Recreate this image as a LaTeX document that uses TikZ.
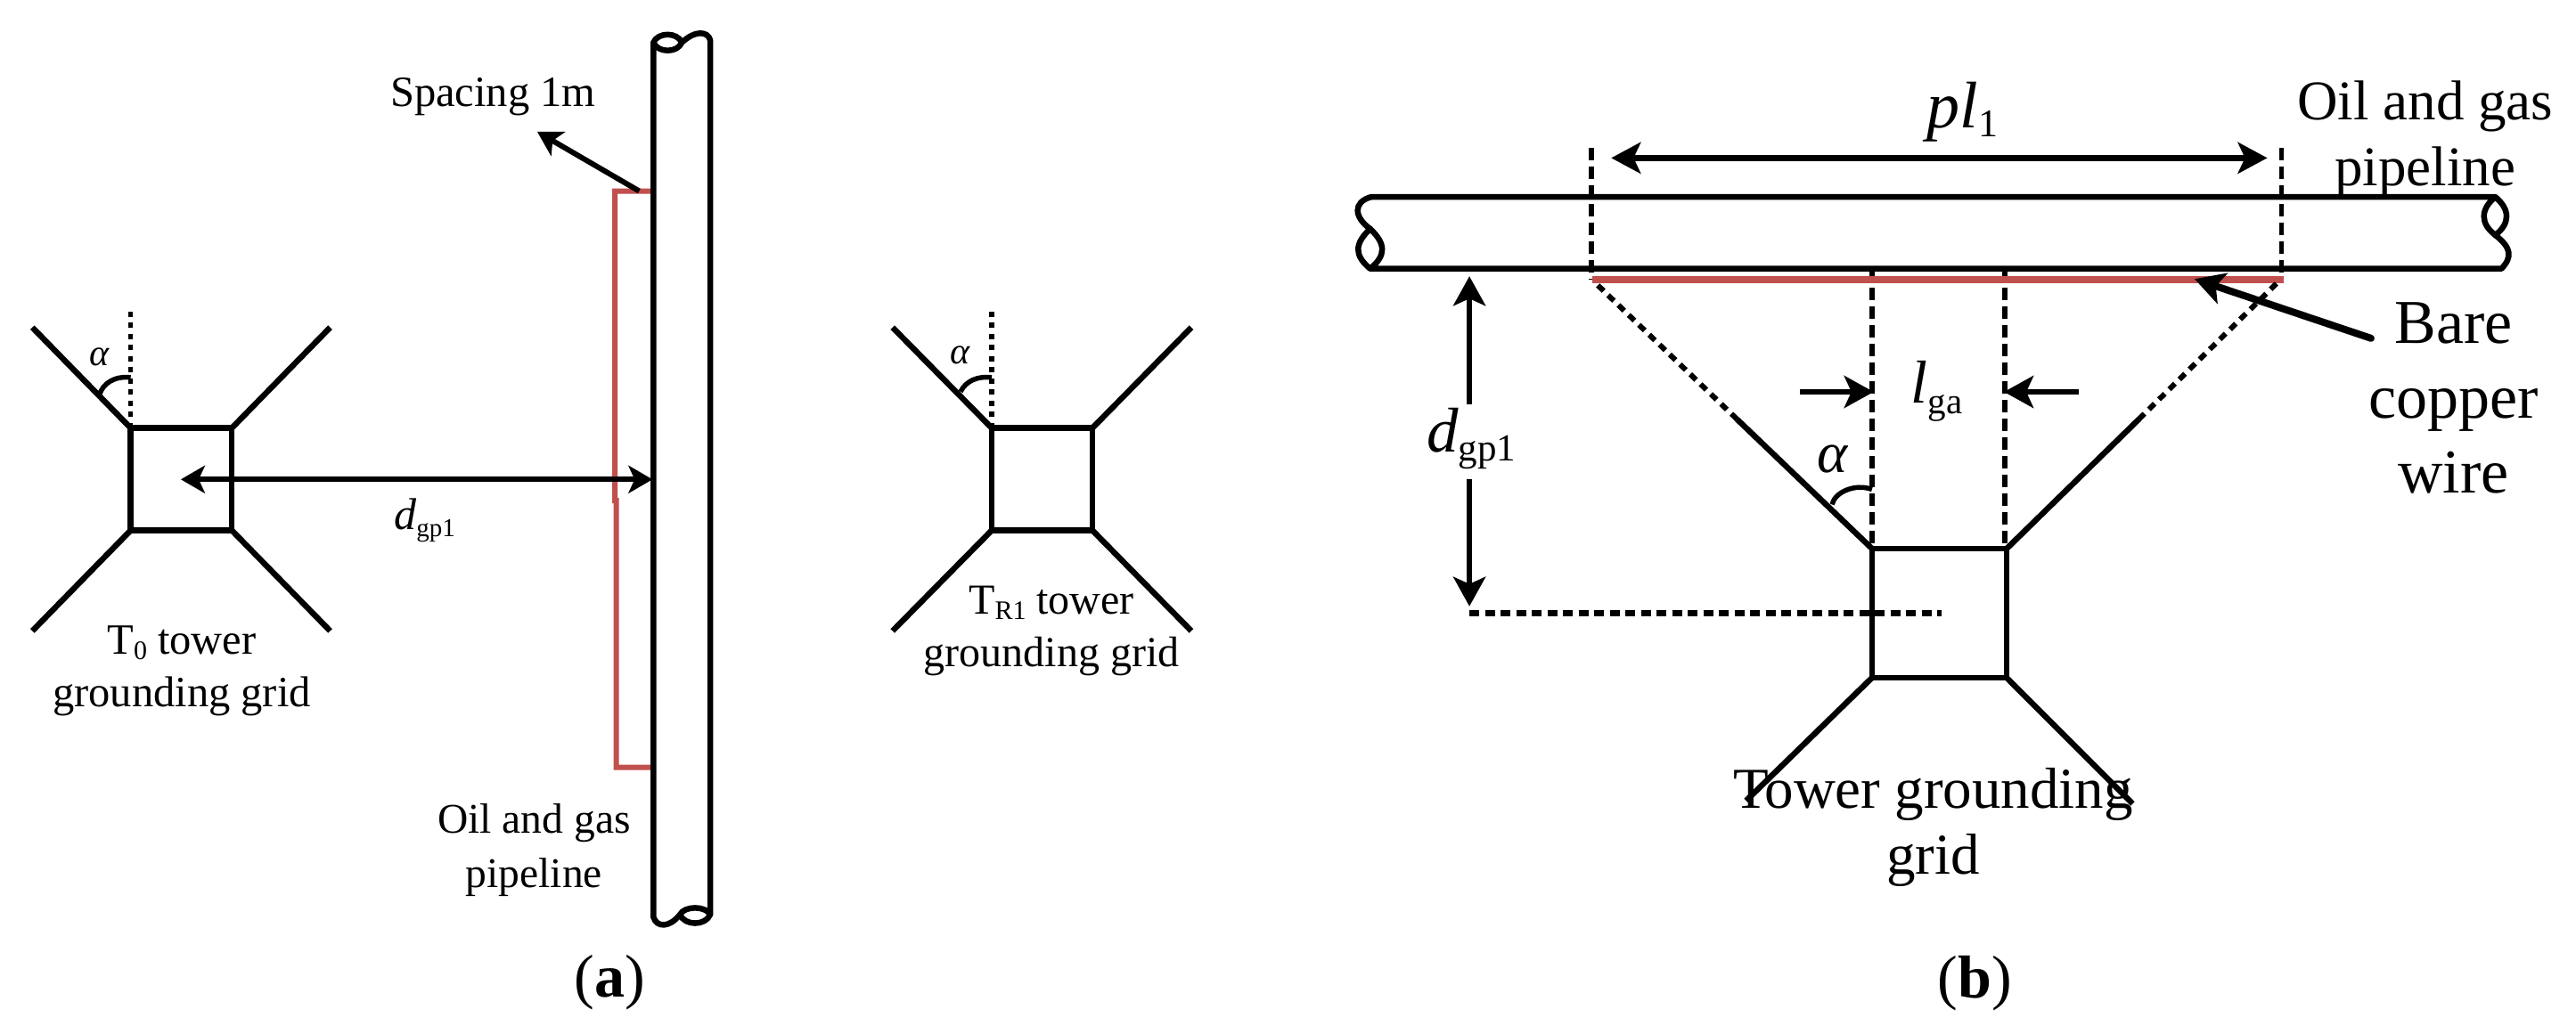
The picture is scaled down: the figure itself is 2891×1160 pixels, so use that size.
\documentclass[tikz,border=0pt]{standalone}
\usepackage{fontspec}
\setmainfont{Liberation Serif}
\usetikzlibrary{arrows.meta}
\definecolor{copperred}{HTML}{C0504D}
\newcommand{\fs}[1]{\fontsize{#1}{#1}\selectfont}
\newcommand{\subt}[3]{\raisebox{-#1pt}{\fontsize{#2}{#2}\selectfont #3}}
\tikzset{
  x=1pt,y=-1pt,
  wire/.style={line width=6.5pt,draw=black,line join=round},
  pipeline/.style={line width=6.5pt,draw=black,line join=round,line cap=round},
  copper/.style={line width=6pt,draw=copperred},
  angarc/.style={line width=5.5pt,draw=black},
  shortdash/.style={line width=5.5pt,draw=black,dash pattern=on 6pt off 6.5pt},
  longdash/.style={line width=5.5pt,draw=black,dash pattern=on 14pt off 7pt},
  slantdot/.style={line width=6pt,draw=black,dash pattern=on 9pt off 7pt},
  levdot/.style={line width=7pt,draw=black,dash pattern=on 11pt off 6.5pt},
  arrA/.style={line width=6pt,draw=black,{Stealth[length=27pt,width=31pt,inset=7pt]}-{Stealth[length=27pt,width=31pt,inset=7pt]}},
  arrA1/.style={line width=6pt,draw=black,-{Stealth[length=27pt,width=31pt,inset=7pt]}},
  arrB/.style={line width=7pt,draw=black,{Stealth[length=33pt,width=35pt,inset=8pt]}-{Stealth[length=33pt,width=35pt,inset=8pt]}},
  arrB1/.style={line width=6.5pt,draw=black,-{Stealth[length=33pt,width=36pt,inset=8pt]}},
  lab/.style={inner sep=0pt,anchor=base,align=center},
}
\begin{document}
\begin{tikzpicture}
\useasboundingbox (0,0) rectangle (2891,1160);
\fill[white] (0,0) rectangle (2891,1160);

\begin{scope}[scale=.995]
% ---------- panel (a): T0 grid
\draw[wire] (147.4,483) rectangle (261.5,598.5);
\draw[wire] (147.4,483) -- (36.5,369.5);
\draw[wire] (261.5,483) -- (372.4,369.5);
\draw[wire] (147.4,598.5) -- (36.5,712);
\draw[wire] (261.5,598.5) -- (372.4,712);
\draw[shortdash] (147.4,483) -- (147.4,349.4);
\draw[angarc] (112,446) .. controls (116,432) and (130,424) .. (147.4,426);
\node[lab] (alphaA) at (112,412.6) {\fs{42}\itshape α};

% copper wire (a)
\coordinate (cuTop) at (737,215.6);
\draw[copper] (cuTop) -- (693.6,215.6) -- (693.6,565) -- (695,565) -- (695,866) -- (737,866);

% pipe (a)
\draw[pipeline] (737,48) -- (737,1035) .. controls (741,1047) and (755,1047) .. (767,1032)
   .. controls (772,1022) and (796,1022) .. (801,1032) .. controls (796,1045) and (772,1045) .. (767,1032);
\draw[pipeline] (801,1032) -- (801,45) .. controls (798,35) and (784,34) .. (769,48)
   .. controls (764,60) and (742,60) .. (737,48) .. controls (742,36) and (764,36) .. (769,48);

% arrows (a)
\coordinate (sp1) at (721,215.6);
\coordinate (sp2) at (606,148.7);
\draw[arrA1] (sp1) -- (sp2);
\coordinate (da1) at (204,541);
\coordinate (da2) at (736,541);
\draw[arrA] (da1) -- (da2);

\node[lab] (spacing) at (556,120) {\fs{48.5}Spacing 1m};
\node[lab] (dgpa) at (479,597) {\fs{50}\itshape d\subt{8}{29}{\upshape gp1}};
\node[lab,font=\fontsize{48.5}{59}\selectfont] (t0) at (205,797) {T\subt{6}{30}{0} tower\\grounding grid};
\node[lab,font=\fontsize{47.5}{60.5}\selectfont] (oilA) at (602.5,1001) {Oil and gas\\pipeline};
\node[lab] (capA) at (688,1125.5) {\fs{68}(\textbf{a})};
\end{scope}

\begin{scope}[yscale=.995]
% ---------- TR1 grid
\draw[wire] (1113,483) rectangle (1226,598.5);
\draw[wire] (1113,483) -- (1001.7,369.5);
\draw[wire] (1226,483) -- (1337,369.5);
\draw[wire] (1113,598.5) -- (1001.7,712);
\draw[wire] (1226,598.5) -- (1337,712);
\draw[shortdash] (1113,483) -- (1113,349.4);
\draw[angarc] (1078,442) .. controls (1084,430) and (1097,424) .. (1113,426);
\node[lab] (alphaR) at (1078,411) {\fs{42}\itshape α};
\node[lab,font=\fontsize{48}{59}\selectfont] (tr1) at (1180,752) {T\subt{6}{30}{R1} tower\\grounding grid};
\end{scope}

\begin{scope}[shift={(7.4,0.25)},scale=.995]
% ---------- panel (b)
\draw[longdash] (1787.5,167) -- (1787.5,315);
\draw[longdash] (2566,167) -- (2566,315);
\draw[longdash] (2104,303) -- (2104,618.8);
\draw[longdash] (2254,303) -- (2254,618.8);
\draw[copper,line width=7.5pt] (1789,315.4) -- (2568,315.4);

% pipe (b)
\draw[pipeline] (1539,222) -- (2807,222) .. controls (2790,236) and (2790,252) .. (2807,265)
   .. controls (2824,252) and (2824,236) .. (2807,222);
\draw[pipeline] (2807,265) .. controls (2826,280) and (2826,290) .. (2814,303) -- (1538,303)
   .. controls (1520,288) and (1520,275) .. (1538,258) .. controls (1556,275) and (1556,288) .. (1538,303);
\draw[pipeline] (1538,258) .. controls (1520,245) and (1518,228) .. (1539,222);

% grid (b)
\draw[wire] (2104,618.8) rectangle (2256,764.6);
\coordinate (tlA) at (1952,473);
\coordinate (trA) at (2405,473);
\draw[wire] (2104,618.8) -- (tlA);
\draw[wire] (2256,618.8) -- (trA);
\draw[slantdot] (tlA) -- (1792,319);
\draw[slantdot] (trA) -- (2565,315);
\draw[wire] (2104,764.6) -- (1962,903.3);
\draw[wire] (2256,764.6) -- (2398,906.8);
\draw[levdot] (1650,691.2) -- (2182,691.2);
\draw[angarc] (2059,569) .. controls (2062,555) and (2085,545) .. (2104,552);

% arrows (b)
\coordinate (pl1) at (1810,178);
\coordinate (pl2) at (2550,178);
\draw[arrB] (pl1) -- (pl2);
\coordinate (dt) at (1650,311.5);
\coordinate (dt2) at (1650,456);
\coordinate (db) at (1650,684);
\coordinate (db2) at (1650,540);
\draw[arrB1] (dt2) -- (dt);
\draw[arrB1] (db2) -- (db);
\coordinate (lgL) at (2023,442);
\coordinate (lgLe) at (2106,442);
\coordinate (lgR) at (2337,442);
\coordinate (lgRe) at (2253,442);
\draw[arrB1] (lgL) -- (lgLe);
\draw[arrB1] (lgR) -- (lgRe);
\coordinate (ba) at (2667,381.5);
\coordinate (bb) at (2468,314.6);
\draw[arrB1,line cap=round,line width=8pt] (ba) -- (bb);

% labels (b)
\node[lab] (pl) at (2206,144) {\fs{74}\itshape pl\subt{10}{44}{\upshape 1}};
\node[lab] (lga) at (2177,455) {\fs{68}\itshape l\subt{12}{41}{\upshape ga}};
\node[lab] (dgpb) at (1652,510) {\fs{71}\itshape d\subt{10}{43}{\upshape gp1}};
\node[lab] (alphaB) at (2059,533) {\fs{65}\itshape α};
\node[lab,font=\fontsize{63}{74}\selectfont] (oilB) at (2728,209) {Oil and gas\\pipeline};
\node[lab,font=\fontsize{70}{84}\selectfont] (bare) at (2760,556) {Bare\\copper\\wire};
\node[lab,font=\fontsize{65}{74}\selectfont] (tower) at (2173,985.7) {Tower grounding\\grid};
\node[lab] (capB) at (2220,1125.4) {\fs{68}(\textbf{b})};
\end{scope}
\end{tikzpicture}
\end{document}
